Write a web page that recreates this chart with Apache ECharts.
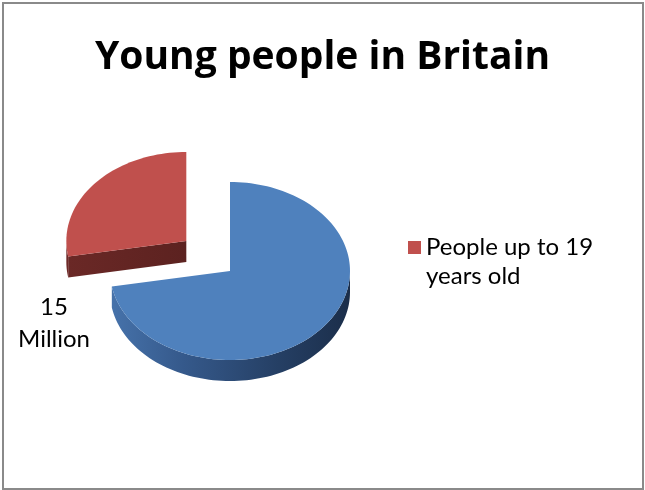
<!DOCTYPE html>
<html>
<head>
<meta charset="utf-8">
<script src="https://cdn.jsdelivr.net/npm/echarts@6/dist/echarts.min.js"></script>
<style>
  html, body { margin: 0; padding: 0; background: #ffffff; }
  #chart { width: 645px; height: 490px; }
</style>
</head>
<body>
<div id="chart"></div>
<script>
// Slices, clockwise from 12 o'clock
const categories = ['Adults', 'People up to 19 years old'];
const values = [39, 15];
const valueUnit = 'Million';
const legendItems = ['People up to 19 years old'];
const titleText = 'Young people in Britain';

const FONT = 'Lato, "Open Sans", sans-serif';
const TITLE_FONT = '"Open Sans", Lato, sans-serif';
const total = values.reduce((a, b) => a + b, 0);

// tilted pie geometry (ellipse of the top face and extrusion depth)
const geo = { cx: 230, cy: 271, rx: 120, ry: 89, depth: 21 };
const explodeBy = [0, 57];
const explodeLift = 0.82; // vertical share of the explode offset
const showLabel = [false, true];

const palette = [
  {
    top: '#4f81bd',
    side: new echarts.graphic.LinearGradient(0, 0, 1, 0, [
      { offset: 0, color: '#4672aa' },
      { offset: 0.3, color: '#35598b' },
      { offset: 0.7, color: '#253f64' },
      { offset: 1, color: '#1b2e4a' }
    ]),
    cut: '#2f4f7a'
  },
  {
    top: '#c0504d',
    side: '#6e2927',
    cut: new echarts.graphic.LinearGradient(0, 0, 1, 0, [
      { offset: 0, color: '#6a2826' },
      { offset: 1, color: '#5c2220' }
    ])
  }
];

function pt(a, ox, oy, dz) {
  const r = a * Math.PI / 180;
  return [geo.cx + ox + geo.rx * Math.cos(r), geo.cy + oy - geo.ry * Math.sin(r) + dz];
}

function arcPts(a0, a1, ox, oy, dz) {
  const n = Math.max(2, Math.ceil(Math.abs(a1 - a0) / 2));
  const pts = [];
  for (let k = 0; k <= n; k++) pts.push(pt(a0 + (a1 - a0) * k / n, ox, oy, dz));
  return pts;
}

function renderSlice(i) {
  return function (params, api) {
    const v = api.value(0);
    let before = 0;
    for (let k = 0; k < i; k++) before += values[k];
    const start = 90 - 360 * before / total;
    const end = start - 360 * v / total;
    const mid = (start + end) / 2 * Math.PI / 180;
    const ox = explodeBy[i] * Math.cos(mid);
    const oy = -explodeBy[i] * Math.sin(mid) * explodeLift;
    const c0 = [geo.cx + ox, geo.cy + oy];
    const c1 = [c0[0], c0[1] + geo.depth];
    const col = palette[i];
    const children = [];

    // front-facing outer rim
    for (let k = -1; k <= 1; k++) {
      const lo = Math.max(end, -180 + 360 * k);
      const hi = Math.min(start, 360 * k);
      if (hi > lo) {
        const pts = arcPts(lo, hi, ox, oy, 0).concat(arcPts(hi, lo, ox, oy, geo.depth));
        children.push({ type: 'polygon', shape: { points: pts }, style: { fill: col.side } });
      }
    }
    // cut faces that turn towards the viewer
    const cs = Math.cos(start * Math.PI / 180);
    const ce = Math.cos(end * Math.PI / 180);
    [[start, cs < -1e-6], [end, ce > 1e-6]].forEach(([a, visible]) => {
      if (!visible) return;
      const p0 = pt(a, ox, oy, 0);
      const p1 = pt(a, ox, oy, geo.depth);
      children.push({ type: 'polygon', shape: { points: [c0, p0, p1, c1] }, style: { fill: col.cut } });
    });
    // top face
    children.push({
      type: 'polygon',
      shape: { points: [c0].concat(arcPts(start, end, ox, oy, 0)) },
      style: { fill: col.top }
    });
    if (showLabel[i]) {
      children.push({
        type: 'text',
        x: geo.cx - 176,
        y: geo.cy + 52,
        style: {
          text: v + '\n' + valueUnit,
          fill: '#000000',
          font: '24px ' + FONT,
          lineHeight: 32,
          align: 'center',
          verticalAlign: 'middle'
        }
      });
    }
    return { type: 'group', children };
  };
}

const chart = echarts.init(document.getElementById('chart'), null, { renderer: 'canvas' });
chart.setOption({
  animation: false,
  backgroundColor: '#ffffff',
  title: {
    text: titleText,
    left: 'center',
    top: 33,
    textStyle: { fontFamily: TITLE_FONT, fontSize: 39, fontWeight: 'bold', color: '#000000' }
  },
  legend: {
    data: legendItems,
    left: 403,
    top: 199,
    icon: 'rect',
    itemWidth: 13,
    itemHeight: 13,
    selectedMode: false,
    // a blank leading line keeps the marker level with the first text line
    formatter: name => ' \n' + name,
    textStyle: {
      fontFamily: FONT,
      fontSize: 24,
      color: '#000000',
      lineHeight: 29,
      width: 190,
      overflow: 'break'
    }
  },
  graphic: [{
    type: 'rect',
    shape: { x: 3, y: 3, width: 640, height: 486 },
    style: { fill: null, stroke: '#8a8a8a', lineWidth: 2 },
    silent: true
  }],
  series: categories.map((name, i) => ({
    type: 'custom',
    name,
    coordinateSystem: 'none',
    silent: true,
    itemStyle: { color: palette[i].top },
    data: [[values[i]]],
    renderItem: renderSlice(i)
  }))
});
</script>
</body>
</html>
